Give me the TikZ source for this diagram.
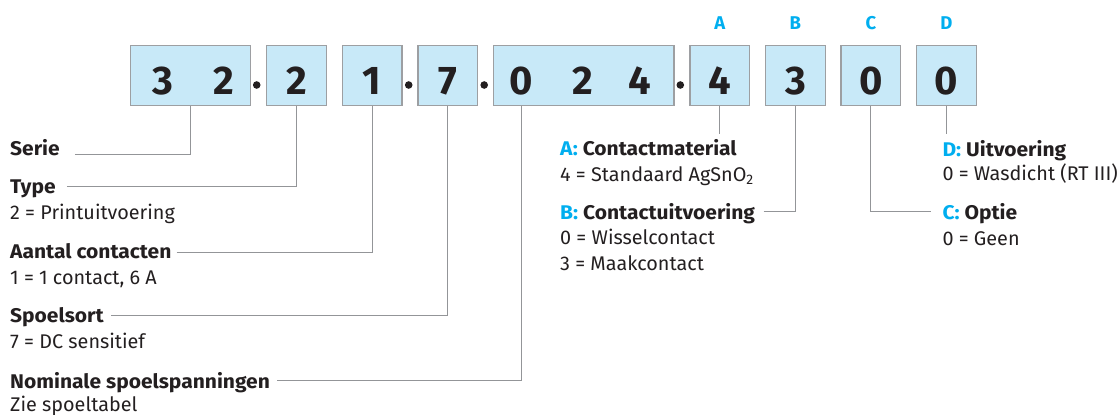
\documentclass[tikz,border=0pt]{standalone}
\usepackage{fontspec}
\setmainfont{Fira Sans}
\newfontfamily\headfont{Fira Sans}[BoldFeatures={FakeStretch=1.06}]
\definecolor{ink}{HTML}{231F20}
\definecolor{boxfill}{HTML}{C8E9F8}
\definecolor{boxedge}{HTML}{9D9FA2}
\definecolor{keyblue}{HTML}{00AEEF}
\definecolor{leader}{HTML}{939598}
\begin{document}
\begin{tikzpicture}[x=1pt,y=-1pt,
  codebox/.style={draw=boxedge, fill=boxfill, line width=1.4pt, minimum height=59.5pt, inner sep=0pt},
  digit/.style={anchor=base, inner sep=0pt, text=ink, font=\fontsize{40}{40}\selectfont\bfseries},
  sepdot/.style={circle, fill=ink, inner sep=0pt, minimum size=7.6pt},
  keyletter/.style={anchor=base, inner sep=0pt, text=keyblue, font=\fontsize{18.5}{18.5}\selectfont\bfseries},
  title/.style={anchor=base west, inner sep=0pt, text=ink, font=\headfont\fontsize{19.8}{19.8}\selectfont\bfseries},
  body/.style={anchor=base west, inner sep=0pt, text=ink, font=\fontsize{19.8}{19.8}\selectfont},
  conn/.style={draw=leader, line width=1pt}]
\useasboundingbox (0,0) rectangle (1117,415);

% code boxes
\node[codebox, minimum width=120pt]   (b1) at (190.3,75.5) {};
\node[codebox, minimum width=59.6pt]  (b2) at (296.5,75.5) {};
\node[codebox, minimum width=59.6pt]  (b3) at (372.2,75.5) {};
\node[codebox, minimum width=59.6pt]  (b4) at (447.7,75.5) {};
\node[codebox, minimum width=180.7pt] (b5) at (583.7,75.5) {};
\node[codebox, minimum width=59.6pt]  (b6) at (719.8,75.5) {};
\node[codebox, minimum width=59.6pt]  (b7) at (795.4,75.5) {};
\node[codebox, minimum width=59.6pt]  (b8) at (870.9,75.5) {};
\node[codebox, minimum width=59.6pt]  (b9) at (946.5,75.5) {};

% digits
\node[digit] (d11) at (163.3,94.3) {3};
\node[digit] (d12) at (224.3,94.3) {2};
\node[digit] (d2)  at (296.5,94.3) {2};
\node[digit] (d3)  at (372.2,94.3) {1};
\node[digit] (d4)  at (447.7,94.3) {7};
\node[digit] (d51) at (521.5,94.3) {0};
\node[digit] (d52) at (582.7,94.3) {2};
\node[digit] (d53) at (639.8,94.3) {4};
\node[digit] (d6)  at (719.8,94.3) {4};
\node[digit] (d7)  at (795.4,94.3) {3};
\node[digit] (d8)  at (870.9,94.3) {0};
\node[digit] (d9)  at (946.5,94.3) {0};

% separating dots
\node[sepdot] (p1) at (256.7,85) {};
\node[sepdot] (p2) at (408.7,85) {};
\node[sepdot] (p3) at (484.2,85) {};
\node[sepdot] (p4) at (680.3,85) {};

% option letters
\node[keyletter] (ka) at (719.8,30) {A};
\node[keyletter] (kb) at (795.4,30) {B};
\node[keyletter] (kc) at (870.9,30) {C};
\node[keyletter] (kd) at (946.5,30) {D};

% left legend
\node[title] (serie)  at (10,155)   {Serie};
\node[title] (type)   at (10,193.3) {Type};
\node[body]  (typev)  at (10,219.3) {2 = Printuitvoering};
\node[title] (aant)   at (10,258.3) {Aantal contacten};
\node[body]  (aantv)  at (10,284)   {1 = 1 contact, 6 A};
\node[title] (spoel)  at (10,322.7) {Spoelsort};
\node[body]  (spoelv) at (10,348.3) {7 = DC sensitief};
\node[title] (nom)    at (10,388.3) {Nominale spoelspanningen};
\node[body]  (nomv)   at (10,411)   {Zie spoeltabel};

% right legend
\node[title] (lbla)  at (560,155)   {{\color{keyblue}A:} Contactmaterial};
\node[body]  (lbla1) at (560,181.7) {4 = Standaard AgSnO\textsubscript{2}};
\node[title] (lblb)  at (560,219.3) {{\color{keyblue}B:} Contactuitvoering};
\node[body]  (lblb1) at (560,244.5) {0 = Wisselcontact};
\node[body]  (lblb2) at (560,270)   {3 = Maakcontact};
\node[title] (lbld)  at (942.3,156)   {{\color{keyblue}D:} Uitvoering};
\node[body]  (lbld1) at (942.3,180.7) {0 = Wasdicht (RT III)};
\node[title] (lblc)  at (942.3,219.3) {{\color{keyblue}C:} Optie};
\node[body]  (lblc1) at (942.3,245)   {0 = Geen};

% leader lines
\coordinate (aend) at (719.8,134);
\coordinate (dend) at (946.5,134);
\draw[conn] ([xshift=15pt,yshift=1pt]serie.base east) -| (b1.south);
\draw[conn] ([xshift=11pt,yshift=6.6pt]type.base east) -| (b2.south);
\draw[conn] ([xshift=5pt,yshift=5.6pt]aant.base east) -| (b3.south);
\draw[conn] ([xshift=7.3pt,yshift=7.7pt]spoel.base east) -| (b4.south);
\draw[conn] ([xshift=7.4pt,yshift=7.6pt]nom.base east) -| (b5.south -| d51);
\draw[conn] (b6.south) -- (aend);
\draw[conn] ([xshift=8.3pt,yshift=7.6pt]lblb.base east) -| (b7.south);
\draw[conn] (b8.south) |- ([xshift=-11.3pt,yshift=7.6pt]lblc.base west);
\draw[conn] (b9.south) -- (dend);
\end{tikzpicture}
\end{document}
